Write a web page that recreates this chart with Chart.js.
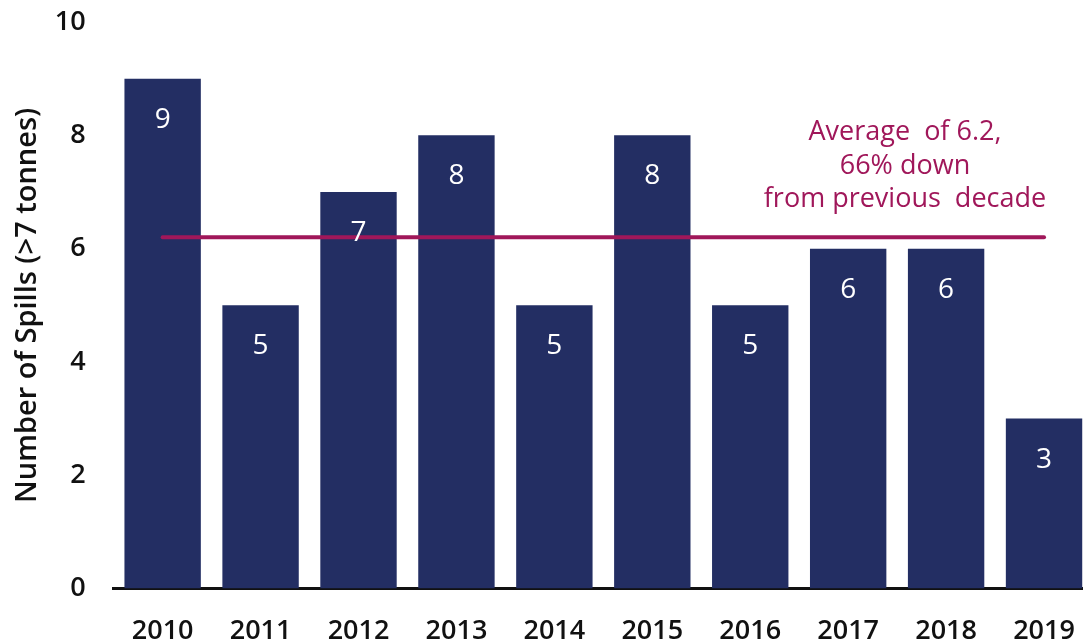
<!DOCTYPE html>
<html>
<head>
<meta charset="utf-8">
<script src="https://cdn.jsdelivr.net/npm/chart.js@4/dist/chart.umd.min.js"></script>
<style>
  html, body { margin: 0; padding: 0; background: #fff; overflow: hidden; }
  #wrap { width: 1093px; height: 642px; position: relative; }
</style>
</head>
<body>
<div id="wrap"><canvas id="chart"></canvas></div>
<script>
// data
const years = ['2010', '2011', '2012', '2013', '2014', '2015', '2016', '2017', '2018', '2019'];
const spills = [9, 5, 7, 8, 5, 8, 5, 6, 6, 3];
const average = [6.2, 6.2, 6.2, 6.2, 6.2, 6.2, 6.2, 6.2, 6.2, 6.2];
const yTicks = [0, 2, 4, 6, 8, 10];
const noteLines = ['Average  of 6.2,', '66% down', 'from previous  decade'];

const navy = '#232e63';
const plum = '#a0175a';
const font = "'Open Sans', sans-serif";

// white value labels inside the bars + the average note
const labelsPlugin = {
    id: 'labels',
    afterDatasetsDraw(chart) {
        const ctx = chart.ctx;
        const meta = chart.getDatasetMeta(1);
        ctx.save();
        ctx.fillStyle = '#fff';
        ctx.font = '28px ' + font;
        ctx.textAlign = 'center';
        ctx.textBaseline = 'middle';
        meta.data.forEach((bar, i) => {
            ctx.fillText(spills[i], bar.x, bar.y + 41);
        });
        // note above the line
        const x = chart.scales.x.getPixelForValue(7.58);
        const y0 = chart.scales.y.getPixelForValue(8.05);
        ctx.font = '27px ' + font;
        ctx.fillStyle = plum;
        noteLines.forEach((t, i) => ctx.fillText(t, x, y0 + i * 33.5));
        ctx.restore();
    }
};

document.addEventListener('DOMContentLoaded', () => {
    const ctx = document.getElementById('chart').getContext('2d');
    new Chart(ctx, {
        data: {
            labels: years,
            datasets: [
                { type: 'line', label: 'Average', data: average, borderColor: plum, borderWidth: 4, pointRadius: 0, borderCapStyle: 'round', order: 0 },
                { type: 'bar', label: 'Spills', data: spills, backgroundColor: navy, borderWidth: 0, barPercentage: 0.78, categoryPercentage: 1, order: 1 }
            ]
        },
        options: {
            responsive: true,
            maintainAspectRatio: false,
            animation: false,
            layout: { padding: { left: 10, right: 0, top: 22, bottom: -6 } },
            plugins: { legend: { display: false }, tooltip: { enabled: false } },
            scales: {
                x: {
                    grid: { display: false, drawTicks: true, tickLength: 27 },
                    border: { display: true, color: '#111', width: 3 },
                    ticks: { color: '#111', font: { family: font, size: 27, weight: '600' }, padding: 0 }
                },
                y: {
                    min: 0, max: 10,
                    afterBuildTicks: (s) => { s.ticks = yTicks.map(v => ({ value: v })); },
                    grid: { display: false, drawTicks: true, tickLength: 28 },
                    border: { display: false },
                    ticks: { color: '#111', font: { family: font, size: 27, weight: '600' }, padding: 0 },
                    title: { display: true, text: 'Number of Spills (>7 tonnes)', color: '#111', font: { family: font, size: 29, weight: '600' }, padding: { top: 0, bottom: 10 } }
                }
            }
        },
        plugins: [labelsPlugin]
    });
});
</script>
</body>
</html>
